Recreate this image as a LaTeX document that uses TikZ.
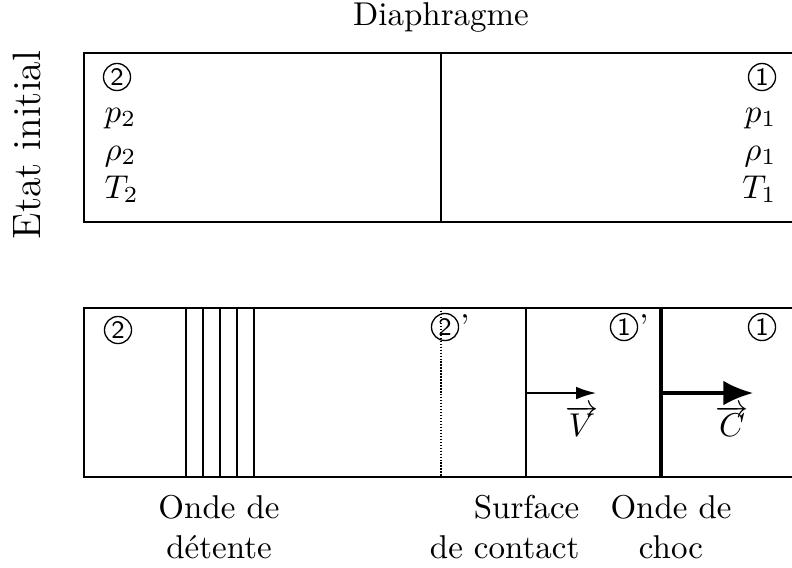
\documentclass[tikz,border=0pt]{standalone}
\usetikzlibrary{arrows.meta}

\tikzset{
  lbl/.style={inner sep=0},
  state/.style={draw, circle, line width=0.4, inner sep=0, minimum size=8.2pt,
    font=\sffamily\fontsize{7.6}{9}\selectfont},
  prim/.style={inner sep=0, anchor=north west},
  wave/.style={line width=0.4},
  shock/.style={line width=1.3},
}

\begin{document}
\begin{tikzpicture}[x=0.303pt, y=-0.303pt]
  \useasboundingbox (0,0) rectangle (792,567);
  % etat initial
  \draw[line width=0.5] (792,53) -| (84,222) -- (792,222);
  \draw[line width=0.5] (441,53) -- (441,222);
  \node[lbl, anchor=base] (diaph) at (441,25) {Diaphragme};
  \node[lbl, anchor=base, rotate=90, font=\large] (init) at (41,145) {Etat initial};
  \node[state] (s2) at (117,77) {2};
  \node[lbl, anchor=base west] (p2) at (104,122) {$p_2$};
  \node[lbl, anchor=base west] (r2) at (104,160) {$\rho_2$};
  \node[lbl, anchor=base west] (t2) at (104,198) {$T_2$};
  \node[state] (s1) at (762,77) {1};
  \node[lbl, anchor=base east] (p1) at (777,122) {$p_1$};
  \node[lbl, anchor=base east] (r1) at (777,160) {$\rho_1$};
  \node[lbl, anchor=base east] (t1) at (777,198) {$T_1$};

  % apres rupture
  \draw[line width=0.5] (792,308) -| (84,477) -- (792,477);
  \foreach \x in
    {
        0,1,2,3,4
    }
    {
        \draw[wave] ({186+\x*17}, 308) -- ({186+\x*17}, 477);
    }
  \draw[dash pattern=on 0.4pt off 0.5pt] (441,308) -- (441,477);
  \draw[line width=0.5] (526,308) -- (526,477);
  \draw[shock] (661,308) -- (661,477);
  \coordinate (vtip) at (596,393);
  \coordinate (ctip) at (753,393);
  \draw[line width=0.5, -{Latex[length=6pt, width=3.8pt]}] (526,393) -- (vtip);
  \draw[line width=1, -{Latex[length=9pt, width=7.5pt]}] (661,393) -- (ctip);
  \node[lbl] (vv) at (582,421) {$\overrightarrow{V}$};
  \node[lbl] (cc) at (732,421) {$\overrightarrow{C}$};
  \node[state] (b2) at (118,330) {2};
  \node[state] (b2p) at (445,327) {2};
  \node[prim] (b2q) at ([xshift=1.4pt, yshift=1pt]b2p.north east) {'};
  \node[state] (b1p) at (624,327) {1};
  \node[prim] (b1q) at ([xshift=1.4pt, yshift=1pt]b1p.north east) {'};
  \node[state] (b1) at (762,327) {1};

  \node[lbl, align=center, anchor=north] (detente) at (219,495) {Onde de\\d\'etente};
  \node[lbl, align=right, anchor=north east] (contact) at (580,495) {Surface\\de contact};
  \node[lbl, align=center, anchor=north] (choc) at (671,495) {Onde de\\choc};
\end{tikzpicture}
\end{document}
